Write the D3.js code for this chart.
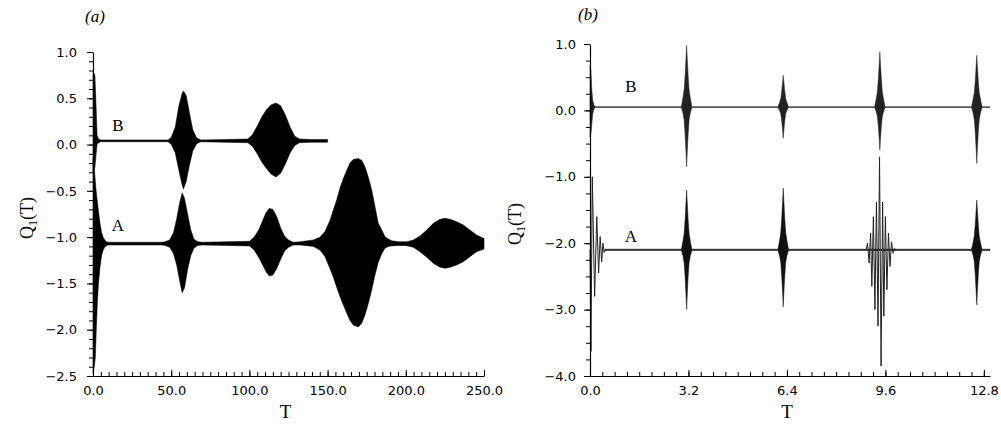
<!DOCTYPE html>
<html><head><meta charset="utf-8">
<script src="https://cdn.jsdelivr.net/npm/d3@7"></script>
<style>body{margin:0;background:#fff}svg{display:block}</style>
</head><body>
<svg id="chart" width="1001" height="425"></svg>
<script>
// ---------- Panel (a) data: envelopes [T, upper, lower] ----------
const aEnvB = [
 [0.0, 0.79, -0.30],[1.2, 0.75, -0.25],[2.0, 0.40, -0.10],[2.6, 0.10, 0.00],[3.5, 0.06, 0.02],[5, 0.05, 0.03],
 [48, 0.05, 0.03],[50.1, 0.08, 0.00],[52.6, 0.19, -0.09],[54.8, 0.41, -0.27],[56.9, 0.55, -0.43],[57.8, 0.58, -0.48],
 [59.6, 0.53, -0.40],[61.7, 0.34, -0.22],[63.8, 0.16, -0.07],[66.3, 0.07, 0.01],[69, 0.05, 0.03],
 [99, 0.06, 0.02],[102, 0.11, -0.02],[105, 0.20, -0.10],[108, 0.30, -0.19],[111, 0.38, -0.26],[114, 0.43, -0.32],
 [117, 0.45, -0.35],[120, 0.42, -0.31],[123, 0.32, -0.21],[126, 0.19, -0.09],[129, 0.09, -0.01],[132, 0.06, 0.02],
 [140, 0.055, 0.025],[150, 0.055, 0.025]
];
const aEnvA = [
 [0.0, -0.15, -2.47],[0.8, -0.25, -2.40],[1.5, -0.40, -2.30],[2.0, -0.50, -2.05],[2.8, -0.62, -1.70],[3.5, -0.72, -1.50],
 [4.5, -0.85, -1.32],[5.5, -0.95, -1.20],[6.5, -1.00, -1.14],[7.5, -1.03, -1.11],[8.7, -1.05, -1.09],[10, -1.055, -1.085],
 [44, -1.055, -1.085],[46, -1.05, -1.09],[49, -1.03, -1.11],[51.5, -0.95, -1.18],[53.5, -0.80, -1.30],[55.5, -0.62, -1.48],
 [57, -0.52, -1.60],[58.5, -0.58, -1.55],[60.5, -0.75, -1.35],[62.5, -0.92, -1.20],[64.5, -1.02, -1.12],[67, -1.05, -1.09],
 [70, -1.055, -1.085],[100, -1.045, -1.095],[103, -1.00, -1.14],[106, -0.92, -1.22],[108.5, -0.82, -1.30],[110.5, -0.74, -1.37],
 [112.7, -0.69, -1.42],[115, -0.70, -1.41],[117.5, -0.78, -1.34],[120, -0.90, -1.24],[122.5, -0.99, -1.15],[125, -1.03, -1.11],
 [128, -1.055, -1.085],
 [132.4, -1.05, -1.085],[140.9, -1.03, -1.10],[145.1, -1.00, -1.14],[148.3, -0.94, -1.21],[151.5, -0.82, -1.34],
 [153.6, -0.71, -1.43],[155.8, -0.60, -1.54],[157.9, -0.47, -1.64],[160.0, -0.37, -1.73],[162.2, -0.28, -1.82],
 [164.3, -0.20, -1.90],[166.4, -0.16, -1.95],[169.6, -0.15, -1.97],[171.8, -0.17, -1.93],[173.9, -0.24, -1.84],
 [176.0, -0.35, -1.72],[178.2, -0.49, -1.57],[180.3, -0.67, -1.41],[182.4, -0.85, -1.27],[184.6, -0.92, -1.18],
 [186.7, -0.995, -1.12],[188.8, -1.02, -1.10],[191.0, -1.04, -1.095],[196, -1.05, -1.09],
 [200.6, -1.049, -1.092],[204.8, -1.031, -1.110],[209.1, -0.988, -1.157],[213.4, -0.923, -1.218],[217.6, -0.851, -1.283],
 [221.9, -0.808, -1.326],[225.1, -0.797, -1.337],[228.3, -0.808, -1.326],[232.5, -0.833, -1.301],[236.8, -0.869, -1.265],
 [241.0, -0.923, -1.211],[245.3, -0.977, -1.157],[249.6, -1.013, -1.132],[250, -1.013, -1.13]
];
const aXTicks = [0, 50, 100, 150, 200, 250];
const aYTicks = [-2.5, -2.0, -1.5, -1.0, -0.5, 0.0, 0.5, 1.0];

// ---------- Panel (b) data ----------
const bEnvB = [
 [0.000, 0.68, -0.40],[0.030, 0.60, -0.35],[0.060, 0.30, -0.20],[0.090, 0.15, -0.05],[0.130, 0.08, 0.02],[0.170, 0.055, 0.045],
 [2.97, 0.055, 0.045],[3.02, 0.19, -0.04],[3.06, 0.31, -0.15],[3.09, 0.52, -0.36],[3.12, 0.79, -0.63],[3.14, 0.98, -0.85],
 [3.16, 0.79, -0.63],[3.19, 0.52, -0.36],[3.22, 0.31, -0.15],[3.26, 0.19, -0.04],[3.31, 0.055, 0.045],
 [6.11, 0.055, 0.045],[6.16, 0.12, 0.00],[6.20, 0.18, -0.05],[6.23, 0.29, -0.16],[6.26, 0.43, -0.30],[6.28, 0.53, -0.42],
 [6.30, 0.43, -0.30],[6.33, 0.29, -0.16],[6.36, 0.18, -0.05],[6.40, 0.12, 0.00],[6.45, 0.055, 0.045],
 [9.25, 0.055, 0.045],[9.30, 0.17, -0.02],[9.34, 0.28, -0.09],[9.37, 0.47, -0.24],[9.40, 0.71, -0.44],[9.42, 0.88, -0.60],
 [9.44, 0.71, -0.44],[9.47, 0.47, -0.24],[9.50, 0.28, -0.09],[9.54, 0.17, -0.02],[9.59, 0.055, 0.045],
 [12.40, 0.055, 0.045],[12.45, 0.17, -0.04],[12.49, 0.27, -0.14],[12.52, 0.44, -0.33],[12.55, 0.67, -0.59],[12.57, 0.83, -0.80],
 [12.59, 0.67, -0.59],[12.62, 0.44, -0.33],[12.65, 0.27, -0.14],[12.69, 0.17, -0.04],[12.74, 0.055, 0.045],[13.0, 0.055, 0.045]
];
const bEnvA = [
 [0.48, -2.09, -2.11],
 [2.97, -2.09, -2.11],[3.02, -1.97, -2.19],[3.06, -1.85, -2.30],[3.09, -1.65, -2.50],[3.12, -1.38, -2.78],
 [3.14, -1.20, -3.00],[3.16, -1.38, -2.78],[3.19, -1.65, -2.50],[3.22, -1.85, -2.30],[3.26, -1.97, -2.19],[3.31, -2.09, -2.11],
 [6.11, -2.09, -2.11],[6.16, -1.96, -2.19],[6.20, -1.84, -2.29],[6.23, -1.64, -2.49],[6.26, -1.36, -2.75],
 [6.28, -1.17, -2.96],[6.30, -1.36, -2.75],[6.33, -1.64, -2.49],[6.36, -1.84, -2.29],[6.40, -1.96, -2.19],[6.45, -2.09, -2.11],
 [12.40, -2.09, -2.11],[12.45, -1.99, -2.18],[12.49, -1.89, -2.28],[12.52, -1.72, -2.47],[12.55, -1.50, -2.73],
 [12.57, -1.35, -2.93],[12.59, -1.50, -2.73],[12.62, -1.72, -2.47],[12.65, -1.89, -2.28],[12.69, -1.99, -2.18],
 [12.74, -2.09, -2.11],[13.0, -2.09, -2.11]
];
// resolved oscillations of series A in panel (b): [T, value]
const bTransientA = [
 [0.00, -2.10],[0.03, -3.63],[0.075, -1.00],[0.15, -2.80],[0.22, -1.60],[0.28, -2.45],[0.33, -1.90],[0.38, -2.28],
 [0.42, -2.00],[0.46, -2.14],[0.50, -2.10]
];
const bPacketA = [
 [8.97, -2.10],[9.02, -2.00],[9.07, -2.30],[9.12, -1.85],[9.16, -2.65],[9.21, -1.60],[9.26, -3.00],[9.31, -1.38],
 [9.36, -3.25],[9.41, -0.70],[9.46, -3.85],[9.51, -1.38],[9.55, -3.10],[9.60, -1.60],[9.65, -2.70],[9.70, -1.85],
 [9.75, -2.35],[9.80, -1.98],[9.85, -2.15],[9.90, -2.08],[9.94, -2.10]
];
const bXTicks = [0.0, 3.2, 6.4, 9.6, 12.8];
const bYTicks = [-4, -3, -2, -1, 0, 1];

// ---------- drawing ----------
const svg = d3.select("#chart");
const fmt = d3.format(".1f");

function drawPanel(cfg) {
  const x = d3.scaleLinear().domain(cfg.xDomain).range(cfg.xRange);
  const y = d3.scaleLinear().domain(cfg.yDomain).range(cfg.yRange);
  const g = svg.append("g");
  const area = d3.area().x(d => x(d[0])).y0(d => y(d[2])).y1(d => y(d[1]));
  const line = d3.line().x(d => x(d[0])).y(d => y(d[1]));

  cfg.envelopes.forEach(e => g.append("path").datum(e.data).attr("d", area)
    .attr("fill", e.color).attr("stroke", e.color).attr("stroke-width", 0.5));
  cfg.lines.forEach(l => g.append("path").datum(l).attr("d", line)
    .attr("fill", "none").attr("stroke", "#222").attr("stroke-width", 1));

  // y axis
  const yMinor = d3.range(cfg.yDomain[0], cfg.yDomain[1] + 1e-9, cfg.yMinorStep);
  const yAxMinor = g.append("g").attr("transform", `translate(${cfg.xRange[0]},0)`)
    .call(d3.axisLeft(y).tickValues(yMinor).tickSize(4).tickFormat(""));
  const yAx = g.append("g").attr("transform", `translate(${cfg.xRange[0]},0)`)
    .call(d3.axisLeft(y).tickValues(cfg.yTicks).tickSize(6).tickSizeOuter(0).tickPadding(cfg.yPad).tickFormat(fmt));
  // x axis
  const xMinor = d3.range(cfg.xDomain[0], cfg.xDomain[1] + 1e-9, cfg.xMinorStep);
  const xAxMinor = g.append("g").attr("transform", `translate(0,${cfg.yRange[0]})`)
    .call(d3.axisBottom(x).tickValues(xMinor).tickSizeInner(-4).tickSizeOuter(0).tickFormat(""));
  const xAx = g.append("g").attr("transform", `translate(0,${cfg.yRange[0]})`)
    .call(d3.axisBottom(x).tickValues(cfg.xTicks).tickSizeInner(-6).tickSizeOuter(0).tickPadding(10).tickFormat(fmt));
  [yAxMinor, xAxMinor].forEach(a => a.select(".domain").remove());
  [yAx, yAxMinor, xAx, xAxMinor].forEach(a => {
    a.selectAll("line").attr("stroke", "#000").attr("stroke-width", 1);
    a.selectAll(".domain").attr("stroke", "#000").attr("stroke-width", 1.2);
    a.selectAll("text").attr("fill", "#000").attr("font-family", "DejaVu Sans").attr("font-size", 13);
  });

  // texts
  const serif = "Liberation Serif";
  svg.append("text").attr("x", cfg.panelLabel[0]).attr("y", cfg.panelLabel[1]).attr("text-anchor", "middle")
    .attr("font-family", serif).attr("font-style", "italic").attr("font-size", 17).text(cfg.panelText);
  svg.append("text").attr("x", (cfg.xRange[0] + cfg.xRange[1]) / 2 - 3).attr("y", 418).attr("text-anchor", "middle")
    .attr("font-family", serif).attr("font-size", 19).text("T");
  const yt = svg.append("text").attr("transform", `translate(${cfg.yTitle[0]},${cfg.yTitle[1]}) rotate(-90)`)
    .attr("text-anchor", "middle").attr("font-family", serif).attr("font-size", 18);
  yt.append("tspan").text("Q");
  yt.append("tspan").attr("font-size", 12).attr("dy", 4).text("1");
  yt.append("tspan").attr("dy", -4).text("(T)");
  cfg.seriesLabels.forEach(s => svg.append("text").attr("x", s[1]).attr("y", s[2]).attr("text-anchor", "middle")
    .attr("font-family", serif).attr("font-size", 17).text(s[0]));
}

drawPanel({
  xDomain: [0, 250], xRange: [93, 484], yDomain: [-2.5, 1.0], yRange: [376, 52],
  xTicks: aXTicks, yTicks: aYTicks, xMinorStep: 5, yMinorStep: 0.1, yPad: 10,
  envelopes: [{data: aEnvA, color: "#000"}, {data: aEnvB, color: "#000"}],
  lines: [],
  panelLabel: [95, 22], panelText: "(a)", yTitle: [33, 218],
  seriesLabels: [["B", 118, 131], ["A", 118, 231]]
});
drawPanel({
  xDomain: [0, 13.0], xRange: [590, 990], yDomain: [-4, 1], yRange: [376, 44],
  xTicks: bXTicks, yTicks: bYTicks, xMinorStep: 0.4, yMinorStep: 0.25, yPad: 8,
  envelopes: [{data: bEnvA, color: "#111"}, {data: bEnvB, color: "#222"}],
  lines: [bTransientA, bPacketA],
  panelLabel: [588, 20], panelText: "(b)", yTitle: [521, 224],
  seriesLabels: [["B", 631, 92], ["A", 631, 242]]
});
</script>
</body></html>
